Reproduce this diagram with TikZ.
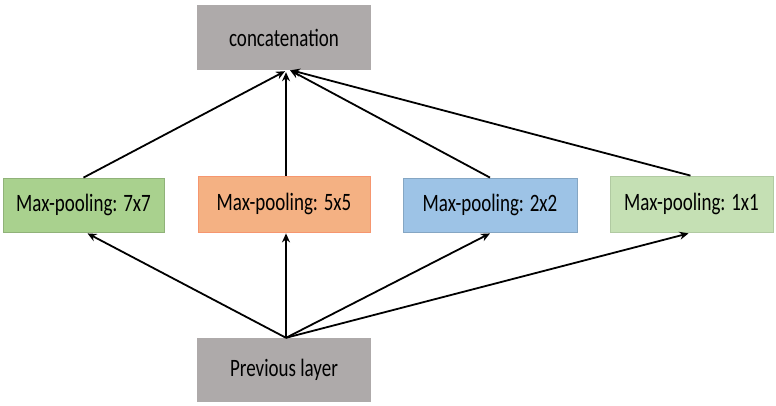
\documentclass[tikz,border=0pt]{standalone}
\usepackage{fontspec}
\setmainfont{Carlito}
\usetikzlibrary{arrows.meta,calc}
\definecolor{grayfill}{HTML}{AEAAAA}
\definecolor{greenA}{HTML}{A9D18E}
\definecolor{salmon}{HTML}{F4B183}
\definecolor{blueA}{HTML}{9DC3E6}
\definecolor{greenB}{HTML}{C5E0B4}
\newcommand{\sqtext}[1]{\scalebox{0.76}[1]{#1}}
\begin{document}
\begin{tikzpicture}[x=1pt,y=-1pt,
  box/.style={rectangle,inner sep=0pt,font=\fontsize{25}{29}\selectfont,text=black},
  graybox/.style={box,fill=grayfill,minimum width=174pt,minimum height=65pt},
  poolbox/.style={box,line width=0.8pt},
  arr/.style={line width=1.8pt,-{Stealth[length=9pt,width=8pt]}}]
\useasboundingbox (0,0) rectangle (776,405);
\node[graybox] (concat) at (284,37.5) {\sqtext{concatenation}};
\node[graybox,minimum height=64pt] (prev) at (284,370) {\sqtext{Previous layer}};
\node[poolbox,fill=greenA,draw=greenA!85!black,minimum width=161pt,minimum height=54pt] (m7) at (83.5,205) {\sqtext{Max-pooling: 7x7}};
\node[poolbox,fill=salmon,draw=salmon!85!red,minimum width=172pt,minimum height=56pt] (m5) at (284,204) {\sqtext{Max-pooling: 5x5}};
\node[poolbox,fill=blueA,draw=blueA!85!black,minimum width=174pt,minimum height=54pt] (m2) at (490,205) {\sqtext{Max-pooling: 2x2}};
\node[poolbox,fill=greenB,draw=greenB!90!black,minimum width=163pt,minimum height=56pt] (m1) at (691.5,204) {\sqtext{Max-pooling: 1x1}};
% end points
\coordinate (src) at ($(prev.north)+(2,0)$);
\coordinate (b7) at ($(m7.south)+(4,1)$);
\coordinate (b5) at ($(m5.south)+(2,1)$);
\coordinate (b2) at ($(m2.south)+(0,1)$);
\coordinate (b1) at ($(m1.south)+(-3,1)$);
\coordinate (t7) at ($(m7.north)+(0,0)$);
\coordinate (t5) at ($(m5.north)+(2,0)$);
\coordinate (t2) at ($(m2.north)+(0,0)$);
\coordinate (t1) at ($(m1.north)+(-1,0)$);
\coordinate (c7) at ($(concat.south)+(1,1)$);
\coordinate (c5) at ($(concat.south)+(2,2)$);
\coordinate (c2) at ($(concat.south)+(6,0)$);
\coordinate (c1) at ($(concat.south)+(7,0)$);
% lower connectors
\draw[arr] (src) -- (b7);
\draw[arr] (src) -- (b5);
\draw[arr] (src) -- (b2);
\draw[arr] (src) -- (b1);
% upper connectors
\draw[arr] (t7) -- (c7);
\draw[arr] (t5) -- (c5);
\draw[arr] (t2) -- (c2);
\draw[arr] (t1) -- (c1);
\end{tikzpicture}
\end{document}
